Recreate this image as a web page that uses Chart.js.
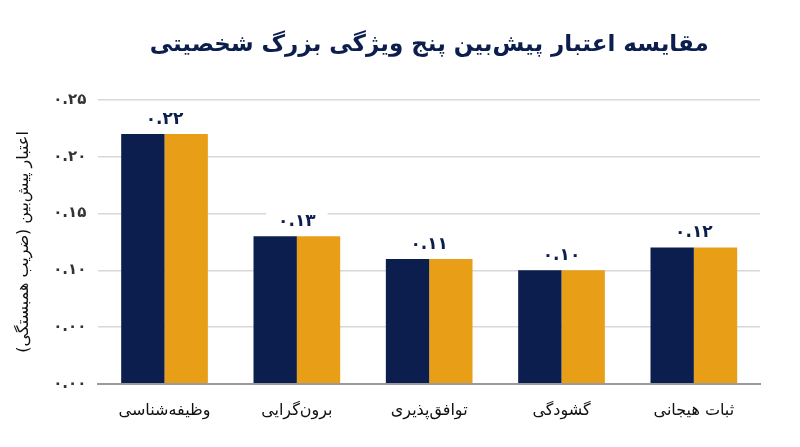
<!DOCTYPE html>
<html lang="fa">
<head>
<meta charset="utf-8">
<script src="https://cdn.jsdelivr.net/npm/chart.js@4"></script>
<style>
html,body{margin:0;padding:0;background:#fff;}
#wrap{position:relative;width:800px;height:447px;}
</style>
</head>
<body>
<div id="wrap"><canvas id="c"></canvas></div>
<script>
const titleText = 'مقایسه اعتبار پیش‌بین پنج ویژگی بزرگ شخصیتی';
const yAxisTitle = 'اعتبار پیش‌بین (ضریب همبستگی)';
const categories = ['وظیفه‌شناسی', 'برون‌گرایی', 'توافق‌پذیری', 'گشودگی', 'ثبات هیجانی'];
const seriesA = [0.22, 0.13, 0.11, 0.10, 0.12];
const seriesB = [0.22, 0.13, 0.11, 0.10, 0.12];
const valueLabels = ['۰.۲۲', '۰.۱۳', '۰.۱۱', '۰.۱۰', '۰.۱۲'];
const tickLabels = ['۰.۰۰', '۰.۰۰', '۰.۱۰', '۰.۱۵', '۰.۲۰', '۰.۲۵'];

const FONT = '"DejaVu Sans", "Noto Sans", sans-serif';
const NAVY = '#0b1e4d';
const ORANGE = '#e89f17';

const labelPlugin = {
  id: 'pairLabels',
  afterDatasetsDraw(chart) {
    const ctx = chart.ctx;
    const x = chart.scales.x, y = chart.scales.y;
    ctx.save();
    ctx.font = 'bold 17px ' + FONT;
    ctx.textAlign = 'center';
    ctx.textBaseline = 'bottom';
    seriesA.forEach((v, i) => {
      const cx = x.getPixelForValue(i);
      const top = y.getPixelForValue(Math.max(v, seriesB[i]));
      const txt = valueLabels[i];
      const w = ctx.measureText(txt).width + 24;
      ctx.fillStyle = '#ffffff';
      ctx.fillRect(cx - w / 2, top - 28, w, 24);
      ctx.fillStyle = NAVY;
      ctx.fillText(txt, cx, top - 6);
    });
    ctx.restore();
  }
};

const titlePlugin = {
  id: 'centeredTitle',
  afterDraw(chart) {
    const ctx = chart.ctx;
    const a = chart.chartArea;
    ctx.save();
    ctx.font = 'bold 23px ' + FONT;
    ctx.fillStyle = NAVY;
    ctx.textAlign = 'center';
    ctx.textBaseline = 'middle';
    ctx.fillText(titleText, (a.left + a.right) / 2, 45);
    ctx.restore();
  }
};

new Chart(document.getElementById('c'), {
  type: 'bar',
  data: {
    labels: categories,
    datasets: [
      { data: seriesA, backgroundColor: NAVY, borderWidth: 0 },
      { data: seriesB, backgroundColor: ORANGE, borderWidth: 0 }
    ]
  },
  options: {
    responsive: true,
    maintainAspectRatio: false,
    animation: false,
    layout: { padding: { left: 10, right: 40, top: 100, bottom: 10 } },
    datasets: { bar: { barPercentage: 1.0, categoryPercentage: 0.655 } },
    plugins: {
      legend: { display: false },
      tooltip: { enabled: false },
      title: { display: false }
    },
    scales: {
      x: {
        grid: { display: false, drawTicks: false },
        border: { display: true, color: '#9a9a9a', width: 2 },
        ticks: { color: '#111', font: { family: FONT, size: 16 }, padding: 17 }
      },
      y: {
        min: 0, max: 0.25,
        grid: { color: '#d8d8d8', lineWidth: 1.5, drawTicks: false },
        border: { display: false },
        ticks: {
          stepSize: 0.05,
          color: '#333',
          padding: 12,
          font: { family: FONT, size: 15, weight: 'bold' },
          callback: (v, i) => tickLabels[i]
        },
        title: {
          display: true,
          text: yAxisTitle,
          color: '#111',
          font: { family: FONT, size: 16 },
          padding: { bottom: 8 }
        }
      }
    }
  },
  plugins: [labelPlugin, titlePlugin]
});
</script>
</body>
</html>
